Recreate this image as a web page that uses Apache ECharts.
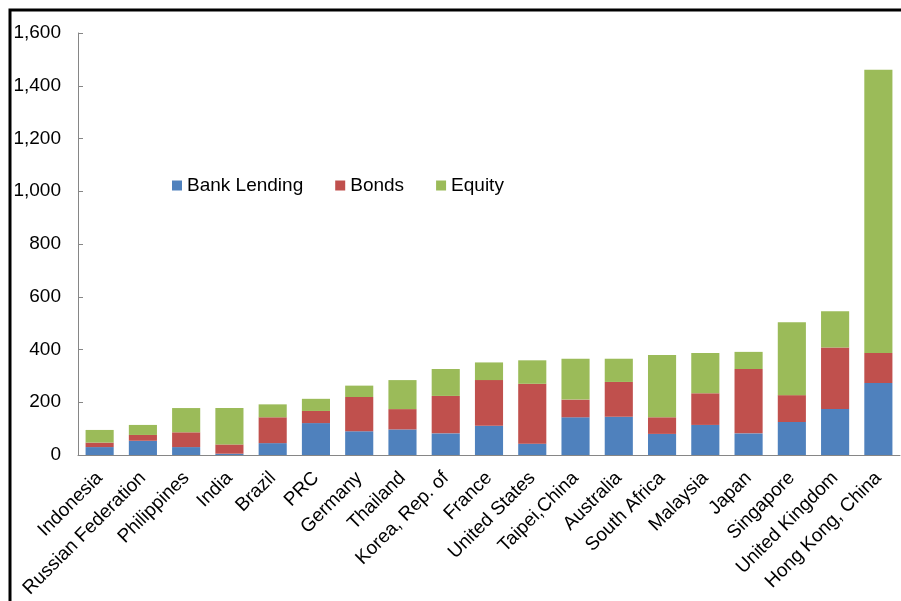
<!DOCTYPE html>
<html>
<head>
    <meta charset="utf-8">
    <title>ECharts</title>
    <script src="https://cdn.jsdelivr.net/npm/echarts@6/dist/echarts.min.js"></script>
    <style>
        html, body { margin: 0; padding: 0; background: #fff; }
        #main { width: 901px; height: 601px; }
    </style>
</head>
<body>
<div id="main"></div>
<script type="text/javascript">
    // categories (economies), sorted by total
    var economies = ['Indonesia', 'Russian Federation', 'Philippines', 'India', 'Brazil', 'PRC',
        'Germany', 'Thailand', 'Korea, Rep. of', 'France', 'United States', 'Taipei,China',
        'Australia', 'South Africa', 'Malaysia', 'Japan', 'Singapore', 'United Kingdom',
        'Hong Kong, China'];

    // values
    var bankLending = [30, 54, 30, 5, 45, 121, 90, 97, 82, 111, 43, 143, 145, 80, 114, 82, 125, 174, 273];
    var bonds = [17, 22, 56, 35, 98, 46, 130, 77, 142, 173, 227, 67, 132, 63, 120, 244, 102, 234, 114];
    var equity = [48, 38, 92, 138, 49, 46, 43, 110, 102, 67, 89, 155, 88, 236, 153, 65, 276, 137, 1074];

    var yTicks = { min: 0, max: 1600, interval: 200 };

    var font = 'Liberation Sans, Arial, sans-serif';
    var myChart = echarts.init(document.getElementById('main'));

    function barSeries(name, data, color) {
        return {
            name: name,
            type: 'bar',
            stack: 'total',
            data: data,
            barCategoryGap: '35%',
            itemStyle: { color: color },
            emphasis: { disabled: true }
        };
    }

    var option = {
        backgroundColor: '#fff',
        animation: false,
        textStyle: { fontFamily: font },
        graphic: [{
            type: 'rect',
            shape: { x: 10, y: 10, width: 1000, height: 1000 },
            style: { fill: 'none', stroke: '#000', lineWidth: 3 },
            silent: true
        }],
        legend: {
            left: 167,
            top: 171,
            itemWidth: 10,
            itemHeight: 10,
            itemGap: 32,
            icon: 'rect',
            textStyle: { fontSize: 19, color: '#000', fontFamily: font },
            data: ['Bank Lending', 'Bonds', 'Equity']
        },
        grid: {
            left: 78,
            right: 1,
            top: 33,
            bottom: 146,
            containLabel: false,
            outerBoundsMode: 'none'
        },
        xAxis: {
            type: 'category',
            data: economies,
            axisLine: { lineStyle: { color: '#868686', width: 1 } },
            axisTick: { inside: true, length: 5, lineStyle: { color: '#868686' } },
            axisLabel: {
                interval: 0,
                rotate: 45,
                margin: 20,
                fontSize: 19,
                color: '#000',
                fontFamily: font
            }
        },
        yAxis: {
            type: 'value',
            min: yTicks.min,
            max: yTicks.max,
            interval: yTicks.interval,
            splitLine: { show: false },
            axisLine: { show: true, lineStyle: { color: '#868686', width: 1 } },
            axisTick: { show: true, inside: true, length: 5, lineStyle: { color: '#868686' } },
            axisLabel: {
                margin: 17,
                fontSize: 19,
                color: '#000',
                fontFamily: font,
                formatter: function (v) {
                    return v.toLocaleString('en-US');
                }
            }
        },
        series: [
            barSeries('Bank Lending', bankLending, '#4F81BD'),
            barSeries('Bonds', bonds, '#C0504D'),
            barSeries('Equity', equity, '#9BBB59')
        ]
    };

    myChart.setOption(option);
</script>
</body>
</html>
